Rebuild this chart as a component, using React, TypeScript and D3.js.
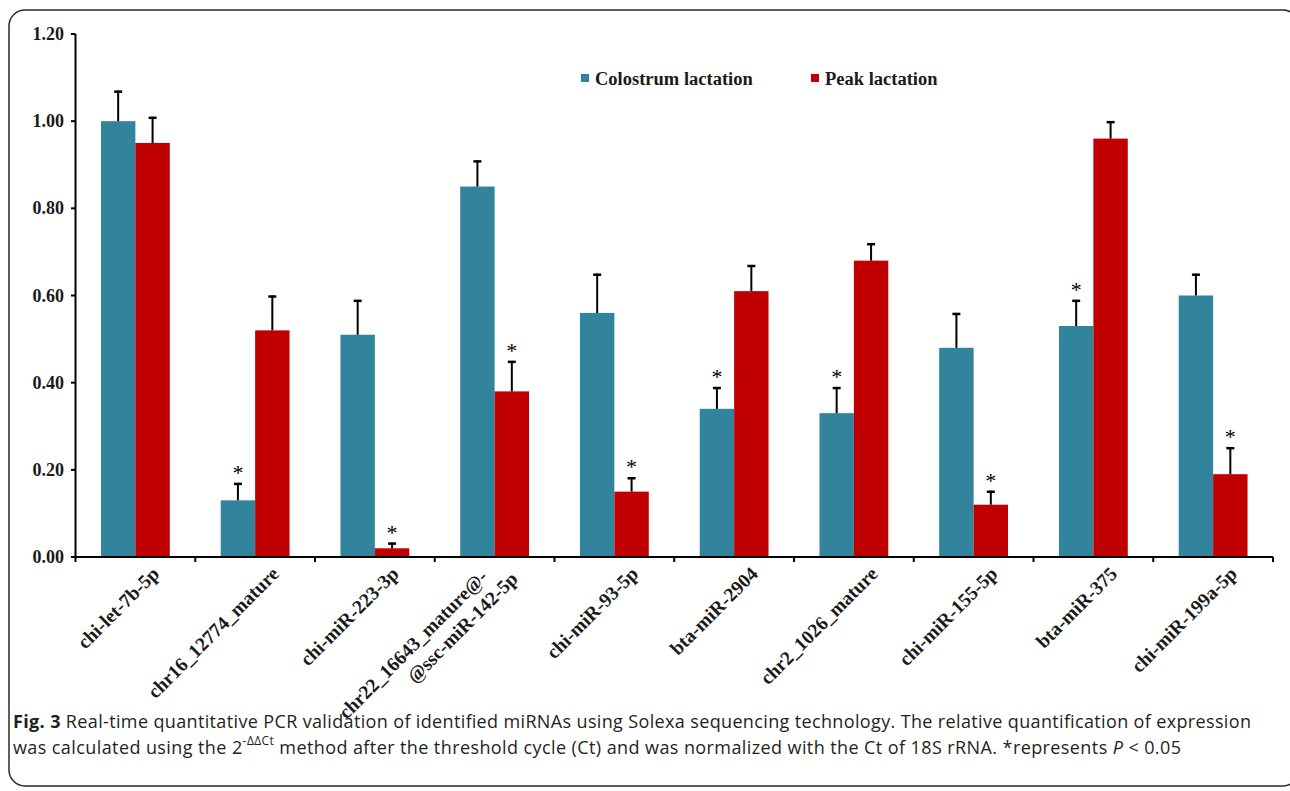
import React from "react";
import * as d3 from "d3";

const categories = [
  "chi-let-7b-5p",
  "chr16_12774_mature",
  "chi-miR-223-3p",
  "chr22_16643_mature@-\n@ssc-miR-142-5p",
  "chi-miR-93-5p",
  "bta-miR-2904",
  "chr2_1026_mature",
  "chi-miR-155-5p",
  "bta-miR-375",
  "chi-miR-199a-5p",
];
const seriesNames = ["Colostrum lactation", "Peak lactation"];
const colostrum = [1.0, 0.13, 0.51, 0.85, 0.56, 0.34, 0.33, 0.48, 0.53, 0.6];
const colostrumErr = [0.07, 0.04, 0.08, 0.06, 0.09, 0.05, 0.06, 0.08, 0.06, 0.05];
const peak = [0.95, 0.52, 0.02, 0.38, 0.15, 0.61, 0.68, 0.12, 0.96, 0.19];
const peakErr = [0.06, 0.08, 0.013, 0.07, 0.033, 0.06, 0.04, 0.032, 0.04, 0.062];
const colostrumSig = [false, true, false, false, false, true, true, false, true, false];
const peakSig = [false, false, true, true, true, false, false, true, false, true];
const yTicks = [0, 0.2, 0.4, 0.6, 0.8, 1.0, 1.2];
const colors = ["#31849C", "#C00000"];

const W = 1290;
const H = 791;
const serif = "'Liberation Serif', 'Times New Roman', serif";
const sans = "'Open Sans', 'Noto Sans', sans-serif";

export default function App() {
  const x = d3.scaleBand<string>().domain(categories).range([75.5, 1273]).paddingInner(0).paddingOuter(0);
  const xs = d3.scaleBand<string>().domain(seriesNames).range([0, x.bandwidth()]).paddingInner(0).paddingOuter(0.74);
  const y = d3.scaleLinear().domain([0, 1.2]).range([557, 34]);

  const series = [
    { name: seriesNames[0], vals: colostrum, err: colostrumErr, sig: colostrumSig, color: colors[0] },
    { name: seriesNames[1], vals: peak, err: peakErr, sig: peakSig, color: colors[1] },
  ];

  const boundaries = d3.range(categories.length + 1).map((i) => 75.5 + i * x.step());

  return (
    <svg width={W} height={H} style={{ position: "absolute", left: 0, top: 0, background: "#fff" }}>
      <rect x={0} y={0} width={W} height={H} fill="#fff" />
      <rect x={9} y={10} width={1290} height={776} rx={16} fill="none" stroke="#2a2a2a" strokeWidth={1.5} />

      {/* bars */}
      {series.map((s) => (
        <g key={s.name}>
          {categories.map((c, i) => {
            const bx = (x(c) as number) + (xs(s.name) as number);
            const bw = xs.bandwidth();
            const top = y(s.vals[i]);
            const et = y(s.vals[i] + s.err[i]);
            const cx = bx + bw / 2;
            return (
              <g key={c}>
                <rect x={bx} y={top} width={bw} height={y(0) - top} fill={s.color} />
                <line x1={cx} x2={cx} y1={top} y2={et} stroke="#000" strokeWidth={2} />
                <line x1={cx - 4} x2={cx + 4} y1={et + 1} y2={et + 1} stroke="#000" strokeWidth={2.5} />
                {s.sig[i] && (
                  <text x={cx} y={et - 3} textAnchor="middle" fontFamily={serif} fontSize={22} fill="#000">
                    *
                  </text>
                )}
              </g>
            );
          })}
        </g>
      ))}

      {/* y axis */}
      <line x1={75.5} x2={75.5} y1={y(1.2)} y2={y(0)} stroke="#000" strokeWidth={2} />
      {yTicks.map((t) => (
        <g key={t}>
          <line x1={71} x2={75.5} y1={y(t)} y2={y(t)} stroke="#000" strokeWidth={2} />
          <text x={64} y={y(t) + 6} textAnchor="end" fontFamily={serif} fontWeight="bold" fontSize={18} fill="#1a1a1a">
            {d3.format(".2f")(t)}
          </text>
        </g>
      ))}

      {/* x axis */}
      <line x1={75.5} x2={1273} y1={y(0)} y2={y(0)} stroke="#000" strokeWidth={2} />
      {boundaries.map((b, i) => (
        <line key={i} x1={b} x2={b} y1={y(0)} y2={y(0) + 5} stroke="#000" strokeWidth={2} />
      ))}
      {categories.map((c) => {
        const lines = c.split("\n");
        const cx = (x(c) as number) + x.bandwidth() / 2;
        const multi = lines.length > 1;
        const ax = multi ? cx - 6 : cx + 25;
        const ay = multi ? 578 : 575;
        return (
          <g key={c} transform={`translate(${ax},${ay}) rotate(-45)`}>
            {lines.map((ln, j) => (
              <text
                key={j}
                x={j * 20}
                y={j * 23}
                textAnchor="end"
                fontFamily={serif}
                fontWeight="bold"
                fontSize={19.5}
                fill="#1a1a1a"
              >
                {ln}
              </text>
            ))}
          </g>
        );
      })}

      {/* legend */}
      {series.map((s, i) => {
        const lx = i === 0 ? 581 : 811;
        return (
          <g key={s.name}>
            <rect x={lx} y={74} width={8} height={8} fill={s.color} />
            <text x={lx + 14} y={85} fontFamily={serif} fontWeight="bold" fontSize={18.5} fill="#1a1a1a">
              {s.name}
            </text>
          </g>
        );
      })}

      {/* caption */}
      <text x={13} y={728} fontFamily={sans} fontSize={18} fill="#231F20" textLength={1238} lengthAdjust="spacing">
        <tspan fontWeight="bold">Fig. 3</tspan>
        <tspan> Real-time quantitative PCR validation of identified miRNAs using Solexa sequencing technology. The relative quantification of expression</tspan>
      </text>
      <text x={13} y={754} fontFamily={sans} fontSize={18} fill="#231F20" textLength={1168} lengthAdjust="spacing">
        <tspan>was calculated using the 2</tspan>
        <tspan dy={-9} fontSize={12}>-ΔΔCt</tspan>
        <tspan dy={9}> method after the threshold cycle (Ct) and was normalized with the Ct of 18S rRNA. *represents </tspan>
        <tspan fontStyle="italic">P</tspan>
        <tspan> &lt; 0.05</tspan>
      </text>
    </svg>
  );
}
